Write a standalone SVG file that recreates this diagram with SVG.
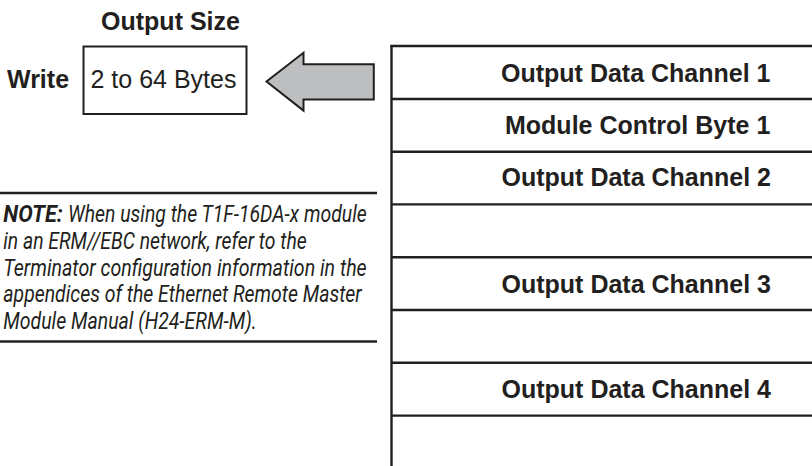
<svg xmlns="http://www.w3.org/2000/svg" width="812" height="466" viewBox="0 0 812 466">
<style>
.bold{font-family:"Liberation Sans",Arial,sans-serif;font-weight:bold;font-size:25px;fill:#231f20}
.reg{font-family:"Liberation Sans",Arial,sans-serif;font-size:25px;fill:#231f20}
.note{font-family:Roboto,"Liberation Sans",sans-serif;font-style:italic;font-size:24.5px;fill:#231f20}
.ln{stroke:#231f20;stroke-width:2.4;fill:none}
</style>
<rect width="812" height="466" fill="#ffffff"/>
<g id="output-size">
<text class="bold" x="170.5" y="29.8" text-anchor="middle">Output Size</text>
<text class="bold" x="7" y="87.5">Write</text>
<rect x="83.5" y="46.5" width="163" height="67.5" fill="#ffffff" stroke="#231f20" stroke-width="2"/>
<text class="reg" x="90.5" y="88.3">2 to 64 Bytes</text>
</g>
<g id="connectors">
<polygon points="266.5,81.5 303.5,52.7 303.5,64.2 373.8,64.2 373.8,99.6 303.5,99.6 303.5,110.6" fill="#bcbec0" stroke="#231f20" stroke-width="2" stroke-linejoin="miter"/>
</g>
<g id="note">
<line class="ln" x1="0" y1="193" x2="377" y2="193"/>
<text class="note" x="3.3" y="221.7" font-weight="bold" textLength="59.5" lengthAdjust="spacingAndGlyphs">NOTE:</text>
<text class="note" x="68" y="221.7" textLength="298.7" lengthAdjust="spacingAndGlyphs">When using the T1F-16DA-x module</text>
<text class="note" x="3.3" y="248.6" textLength="303.4" lengthAdjust="spacingAndGlyphs">in an ERM//EBC network, refer to the</text>
<text class="note" x="3.3" y="275.5" textLength="363.4" lengthAdjust="spacingAndGlyphs">Terminator configuration information in the</text>
<text class="note" x="3.3" y="302.4" textLength="358.4" lengthAdjust="spacingAndGlyphs">appendices of the Ethernet Remote Master</text>
<text class="note" x="3.3" y="329.3" textLength="253.4" lengthAdjust="spacingAndGlyphs">Module Manual (H24-ERM-M).</text>
<line class="ln" x1="0" y1="341.5" x2="377" y2="341.5"/>
</g>
<g id="table">
<line class="ln" x1="391.5" y1="45" x2="391.5" y2="466"/>
<line class="ln" x1="390.5" y1="46" x2="812" y2="46"/>
<line class="ln" x1="391.5" y1="99" x2="812" y2="99"/>
<line class="ln" x1="391.5" y1="151.8" x2="812" y2="151.8"/>
<line class="ln" x1="391.5" y1="204.4" x2="812" y2="204.4"/>
<line class="ln" x1="391.5" y1="257.2" x2="812" y2="257.2"/>
<line class="ln" x1="391.5" y1="310" x2="812" y2="310"/>
<line class="ln" x1="391.5" y1="362.8" x2="812" y2="362.8"/>
<line class="ln" x1="391.5" y1="415.6" x2="812" y2="415.6"/>
</g>
<g id="row-odc1"><text class="bold" x="770.5" y="81.7" text-anchor="end">Output Data Channel 1</text></g>
<g id="row-mcb1"><text class="bold" x="770.3" y="133.5" text-anchor="end">Module Control Byte 1</text></g>
<g id="row-odc2"><text class="bold" x="771" y="186.3" text-anchor="end">Output Data Channel 2</text></g>
<g id="row-odc3"><text class="bold" x="771" y="292.8" text-anchor="end">Output Data Channel 3</text></g>
<g id="row-odc4"><text class="bold" x="771" y="398.2" text-anchor="end">Output Data Channel 4</text></g>
</svg>
